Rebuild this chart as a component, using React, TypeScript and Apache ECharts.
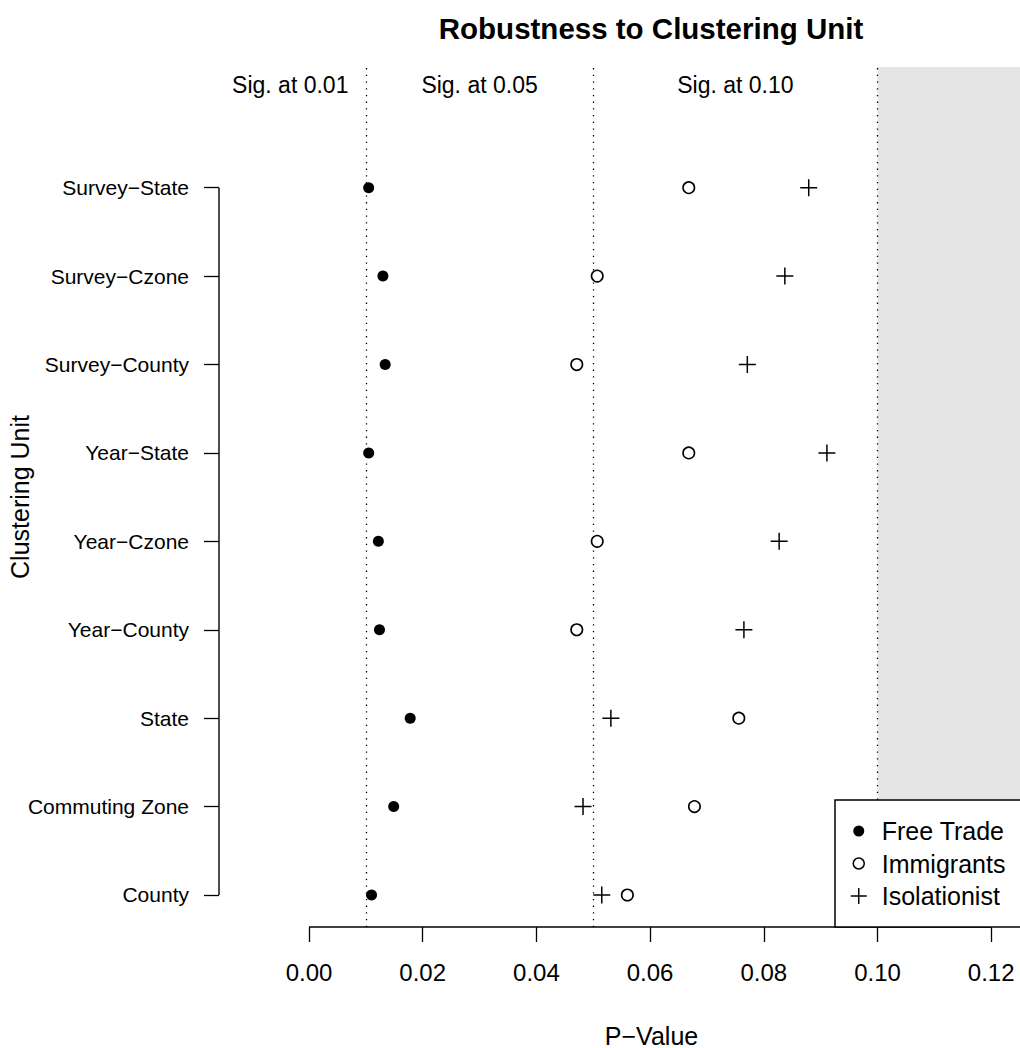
import React, { useEffect, useRef } from "react";
import * as echarts from "echarts";

// Clustering units, bottom to top on the y axis
const categories = [
  "County",
  "Commuting Zone",
  "State",
  "Year−County",
  "Year−Czone",
  "Year−State",
  "Survey−County",
  "Survey−Czone",
  "Survey−State",
];

// P-values per clustering unit (same order as categories)
const freeTrade = [0.011, 0.0149, 0.0178, 0.0124, 0.0122, 0.0105, 0.0134, 0.013, 0.0105];
const immigrants = [0.056, 0.0678, 0.0756, 0.0471, 0.0507, 0.0668, 0.0471, 0.0507, 0.0668];
const isolationist = [0.0515, 0.0482, 0.0531, 0.0765, 0.0827, 0.0911, 0.0771, 0.0837, 0.0879];

const xTicks = [0, 0.02, 0.04, 0.06, 0.08, 0.1, 0.12];
const thresholds = [0.01, 0.05, 0.1];
const sigLabels = ["Sig. at 0.01", "Sig. at 0.05", "Sig. at 0.10"];
const sigLabelX = [-0.0033, 0.03, 0.075];
const sigLabelY = 10.16;

const X_MIN = -0.01583;
const X_MAX = 0.13632;
const Y_MIN = 0.638;
const Y_MAX = 10.365;

const FONT = "'Liberation Sans', Arial, Helvetica, sans-serif";

const PLUS_PATH = "path://M0,7.3H16V8.7H0Z M7.3,0H8.7V16H7.3Z";
const DOT_ICON = "path://M0,0L0,0M16,16L16,16M13.5,8A5.5,5.5,0,1,1,2.5,8A5.5,5.5,0,1,1,13.5,8Z";

export default function App() {
  const ref = useRef<HTMLDivElement>(null);

  useEffect(() => {
    if (!ref.current) return;
    const chart = echarts.init(ref.current, undefined, { renderer: "svg" });

    const idx = categories.map((_, i) => i + 1);

    chart.setOption({
      animation: false,
      backgroundColor: "#ffffff",
      textStyle: { fontFamily: FONT, color: "#000" },
      title: {
        text: "Robustness to Clustering Unit",
        left: 651,
        top: 13,
        padding: 0,
        textAlign: "center",
        textStyle: { fontFamily: FONT, fontSize: 29.5, fontWeight: "bold", color: "#000" },
      },
      grid: {
        left: 219,
        right: -64,
        top: 67,
        bottom: 121,
        containLabel: false,
        outerBoundsMode: "none",
      },
      // legend frame, anchored at the plot's bottom-right corner (runs past the right edge)
      graphic: [
        {
          type: "rect",
          z: 6,
          silent: true,
          shape: { x: 835, y: 800, width: 260, height: 127 },
          style: { fill: "#fff", stroke: "#000", lineWidth: 1.5 },
        },
      ],
      xAxis: {
        type: "value",
        min: X_MIN,
        max: X_MAX,
        name: "P−Value",
        nameLocation: "middle",
        nameGap: 96,
        nameMoveOverlap: false,
        nameTextStyle: { fontFamily: FONT, fontSize: 25, color: "#000" },
        axisLine: { show: false, onZero: false },
        splitLine: { show: false },
        axisTick: {
          show: true,
          customValues: xTicks,
          length: 15,
          lineStyle: { color: "#000", width: 1.3 },
        },
        axisLabel: {
          customValues: xTicks,
          formatter: (v: number) => v.toFixed(2),
          fontFamily: FONT,
          fontSize: 24,
          color: "#000",
          margin: 33,
        },
      },
      yAxis: {
        type: "value",
        min: Y_MIN,
        max: Y_MAX,
        name: "Clustering Unit",
        nameLocation: "middle",
        nameRotate: 90,
        nameGap: 187,
        nameMoveOverlap: false,
        nameTextStyle: { fontFamily: FONT, fontSize: 25, color: "#000" },
        axisLine: { show: false, onZero: false },
        splitLine: { show: false },
        axisTick: {
          show: true,
          customValues: idx,
          length: 15,
          lineStyle: { color: "#000", width: 1.3 },
        },
        axisLabel: {
          customValues: idx,
          formatter: (v: number) => categories[Math.round(v) - 1] ?? "",
          fontFamily: FONT,
          fontSize: 21,
          color: "#000",
          margin: 30,
        },
      },
      legend: {
        orient: "vertical",
        left: 835,
        top: 800,
        z: 7,
        padding: [18, 20, 18, 15],
        itemWidth: 16,
        itemHeight: 16,
        itemGap: 6.5,
        borderWidth: 0,
        backgroundColor: "transparent",
        selectedMode: false,
        textStyle: {
          fontFamily: FONT,
          fontSize: 25,
          lineHeight: 26,
          color: "#000",
          padding: [0, 0, 0, 10],
        },
        data: [
          { name: "Free Trade", icon: DOT_ICON, itemStyle: { color: "#000", borderWidth: 0, opacity: 1 } },
          {
            name: "Immigrants",
            icon: DOT_ICON,
            itemStyle: { color: "#fff", borderColor: "#000", borderWidth: 1.5, opacity: 1 },
          },
          { name: "Isolationist", icon: PLUS_PATH, itemStyle: { color: "#000", borderWidth: 0, opacity: 1 } },
        ],
      },
      series: [
        {
          // shaded non-significant region and significance thresholds
          type: "line",
          name: "thresholds",
          data: [],
          silent: true,
          z: 1,
          markArea: {
            silent: true,
            itemStyle: { color: "#E5E5E5", opacity: 1 },
            data: [[{ xAxis: 0.1 }, { xAxis: X_MAX }]],
          },
          markLine: {
            silent: true,
            symbol: "none",
            label: { show: false },
            lineStyle: { color: "#000", width: 1.3, type: [1.3, 5.4], opacity: 1 },
            data: thresholds.map((t) => ({ xAxis: t })),
          },
        },
        {
          type: "scatter",
          name: "sig-labels",
          silent: true,
          symbolSize: 0,
          z: 2,
          itemStyle: { opacity: 1 },
          data: sigLabelX.map((x, i) => ({ value: [x, sigLabelY], name: sigLabels[i] })),
          label: {
            show: true,
            position: "inside",
            formatter: "{b}",
            fontFamily: FONT,
            fontSize: 23,
            color: "#000",
          },
        },
        {
          type: "line",
          name: "y-axis-line",
          silent: true,
          clip: false,
          symbol: "none",
          z: 3,
          lineStyle: { color: "#000", width: 1.4 },
          data: [
            [X_MIN, 1],
            [X_MIN, categories.length],
          ],
        },
        {
          type: "line",
          name: "x-axis-line",
          silent: true,
          clip: false,
          symbol: "none",
          z: 3,
          lineStyle: { color: "#000", width: 1.4 },
          data: [
            [xTicks[0], Y_MIN],
            [xTicks[xTicks.length - 1], Y_MIN],
          ],
        },
        {
          type: "scatter",
          name: "Free Trade",
          symbol: "circle",
          symbolSize: 11,
          z: 5,
          itemStyle: { color: "#000", opacity: 1 },
          data: freeTrade.map((v, i) => [v, i + 1]),
        },
        {
          type: "scatter",
          name: "Immigrants",
          symbol: "circle",
          symbolSize: 11.5,
          z: 5,
          itemStyle: { color: "#fff", borderColor: "#000", borderWidth: 1.6, opacity: 1 },
          data: immigrants.map((v, i) => [v, i + 1]),
        },
        {
          type: "scatter",
          name: "Isolationist",
          symbol: PLUS_PATH,
          symbolSize: 17,
          z: 5,
          itemStyle: { color: "#000", opacity: 1 },
          data: isolationist.map((v, i) => [v, i + 1]),
        },
      ],
    });

    return () => chart.dispose();
  }, []);

  return (
    <div
      ref={ref}
      style={{ position: "absolute", left: 0, top: 0, width: 1020, height: 1048, overflow: "hidden" }}
    />
  );
}
